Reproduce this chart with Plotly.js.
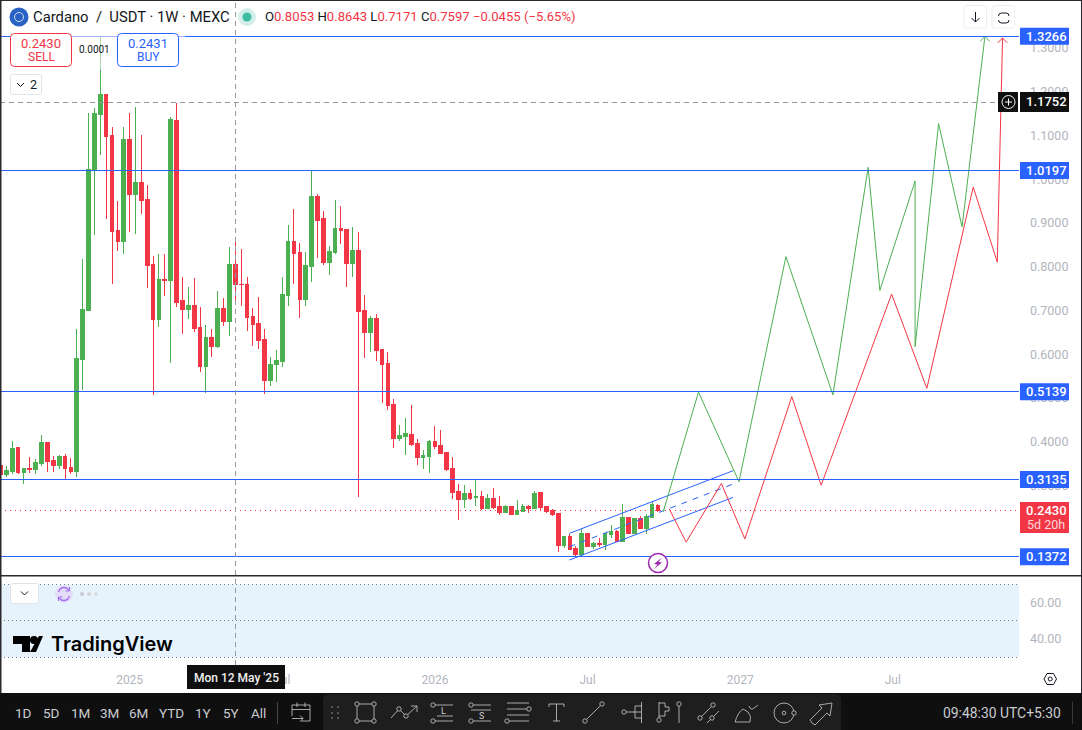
<!DOCTYPE html>
<html>
<head>
<meta charset="utf-8">
<script src="https://cdn.plot.ly/plotly-3.0.1.min.js"></script>
<style>
html, body { margin: 0; padding: 0; background: #fff; overflow: hidden; }
#chart { width: 1082px; height: 730px; }
.boxlayer path { shape-rendering: crispEdges; }
</style>
</head>
<body>
<div id="chart"></div>
<script>
const W = 1082, H = 730
const FONT = 'Roboto, "Liberation Sans", sans-serif'

// weekly candles, first one is the week of 2024-08-05
const firstWeek = '2024-08-05'
const opens = [.345,.325,.331,.386,.329,.338,.336,.350,.398,.357,
  .345,.366,.341,.331,.587,.699,1.019,1.147,1.193,1.099,
  .882,.857,1.090,.965,.992,.953,.805,.679,.770,.768,
  1.134,.722,.702,.711,.661,.571,.638,.617,.704,.674,
  .8053,.7597,.759,.686,.670,.633,.539,.576,.583,.734,
  .857,.832,.725,.800,.960,.910,.809,.832,.887,.885,
  .807,.837,.699,.649,.681,.610,.578,.485,.407,.411,
  .416,.395,.363,.366,.400,.391,.375,.338,.286,.267,
  .281,.272,.274,.247,.270,.251,.238,.251,.233,.240,
  .251,.247,.283,.251,.242,.235,.162,.183,.155,.142,
  .190,.160,.167,.165,.187,.194,.171,.226,.190,.224,
  .201,.226,.254]
const highs = [.357,.345,.402,.389,.341,.366,.361,.416,.398,.368,
  .370,.373,.363,.658,.818,1.152,1.163,1.3266,1.193,1.120,
  .951,1.120,1.152,1.166,1.102,.987,.825,.830,.830,1.143,
  1.175,.777,.754,.775,.709,.667,.658,.745,.729,.846,
  .8643,.841,.777,.706,.731,.658,.594,.610,.777,.896,
  .933,.855,.834,1.019,.967,.928,.848,.953,.939,.887,
  .891,.880,.736,.688,.693,.613,.606,.498,.439,.455,
  .485,.407,.382,.405,.437,.427,.375,.366,.304,.302,
  .293,.313,.288,.281,.295,.277,.256,.254,.267,.258,
  .256,.288,.283,.254,.247,.235,.183,.190,.162,.201,
  .190,.171,.181,.192,.210,.199,.258,.229,.226,.231,
  .235,.265,.258]
const lows = [.277,.320,.327,.327,.304,.329,.327,.345,.331,.331,
  .338,.315,.327,.320,.519,.699,.873,1.056,.910,.761,
  .837,.830,.880,.875,.921,.752,.507,.663,.734,.581,
  .709,.647,.681,.651,.560,.512,.594,.615,.665,.642,
  .7171,.711,.654,.619,.613,.510,.528,.537,.571,.711,
  .761,.683,.711,.766,.821,.805,.782,.830,.853,.754,
  .777,.274,.592,.606,.585,.489,.473,.386,.402,.370,
  .391,.347,.338,.329,.384,.373,.334,.270,.222,.249,
  .267,.254,.245,.247,.247,.233,.238,.233,.233,.240,
  .238,.247,.245,.238,.231,.149,.158,.153,.139,.139,
  .160,.155,.160,.153,.181,.171,.171,.190,.190,.201,
  .190,.226,.240]
const closes = [.325,.334,.384,.329,.338,.336,.352,.398,.354,.345,
  .366,.338,.331,.590,.702,1.022,1.150,1.193,1.097,.880,
  .857,1.090,.965,.992,.951,.802,.679,.770,.768,1.136,
  .718,.702,.711,.658,.571,.638,.617,.704,.674,.805,
  .7597,.759,.683,.667,.631,.539,.576,.585,.736,.857,
  .830,.725,.802,.960,.905,.809,.834,.887,.882,.807,
  .837,.697,.649,.681,.608,.576,.482,.407,.414,.418,
  .393,.363,.368,.400,.389,.373,.336,.283,.267,.281,
  .270,.274,.247,.270,.249,.238,.251,.233,.242,.251,
  .247,.281,.249,.240,.233,.162,.183,.153,.142,.190,
  .160,.167,.165,.190,.194,.171,.226,.190,.224,.201,
  .229,.256,.243]

// drawn forecast paths, x in weeks after 2025-05-12
const anchorWeek = '2025-05-12'
const greenWeeks = [72.9,78.9,85.8,93.8,101.8,107.8,109.8,115.8,115.8,119.8,123.8,127.7]
const greenPrices = [.240,.5134,.3086,.823,.507,1.027,.746,.996,.617,1.127,.891,1.3266]
const redWeeks = [73.9,76.8,82.8,86.8,94.8,99.8,111.8,117.8,125.7,129.8,130.7]
const redPrices = [.247,.1705,.3045,.1776,.503,.3006,.7374,.522,.982,.8105,1.323]
const greenHeadWeeks = [126.9,127.7,128.5]
const greenHeadPrices = [1.3152,1.3266,1.3152]
const redHeadWeeks = [129.9,130.7,131.5]
const redHeadPrices = [1.3116,1.323,1.3116]

// up channel
const channelWeeks = [56.9,84.8]
const channelTop = [.1904,.3337]
const channelMid = [.160,.3032]
const channelBottom = [.1296,.2727]

const levels = [1.3266,1.0197,.5139,.3135,.1372]
const crossPrice = 1.1752
const lastPrice = .2430

const priceTicks = [.3,.4,.5,.6,.7,.8,.9,1,1.1,1.2,1.3]
const oscTicks = [40,60]
const timeTicks = ['2025-01-06','2025-07-07','2026-01-05','2026-07-06','2027-01-04','2027-07-05']
const timeLabels = ['2025','Jul','2026','Jul','2027','Jul']
const rangeLabels = ['1D','5D','1M','3M','6M','YTD','1Y','5Y','All']
const rangeX = [23,51,80,109,138,171,203,231,258]

const GREEN = '#4caf50', RED = '#f23645', BLUE = '#2962ff', GREY = '#b2b5be', ICON = '#c9cbd0', PANEL = '#1e1e1e'
const DAY = 86400000
const weekToDate = w => new Date(Date.parse(anchorWeek + 'T00:00:00Z') + w * 7 * DAY).toISOString().slice(0, 19)
const dates = opens.map((_, i) => new Date(Date.parse(firstWeek + 'T00:00:00Z') + i * 7 * DAY).toISOString().slice(0, 10))

const X = x => x / W
const Y = y => 1 - y / H
// pixel path -> paper path
const P = d => d.replace(/(-?[\d.]+)[ ,]+(-?[\d.]+)/g, (m, a, b) => X(+a) + ',' + Y(+b))

const shapes = []
const notes = []
const pth = (d, color, width, fill) => shapes.push({type: 'path', xref: 'paper', yref: 'paper', path: P(d),
  line: {color: color || 'rgba(0,0,0,0)', width: width === undefined ? 1 : width}, fillcolor: fill || 'rgba(0,0,0,0)'})
const rct = (x0, y0, x1, y1, fill) => shapes.push({type: 'rect', xref: 'paper', yref: 'paper', x0: X(x0), x1: X(x1), y0: Y(y0), y1: Y(y1), line: {width: 0}, fillcolor: fill})
const rnd = (x0, y0, x1, y1, r, color, fill, width) => pth(`M${x0 + r} ${y0} L${x1 - r} ${y0} Q${x1} ${y0} ${x1} ${y0 + r} L${x1} ${y1 - r} Q${x1} ${y1} ${x1 - r} ${y1} L${x0 + r} ${y1} Q${x0} ${y1} ${x0} ${y1 - r} L${x0} ${y0 + r} Q${x0} ${y0} ${x0 + r} ${y0} Z`, color, width, fill)
const cir = (cx, cy, r, color, fill, width) => shapes.push({type: 'circle', xref: 'paper', yref: 'paper', x0: X(cx - r), x1: X(cx + r), y0: Y(cy - r), y1: Y(cy + r),
  line: {color: color || 'rgba(0,0,0,0)', width: width === undefined ? 1 : width}, fillcolor: fill || 'rgba(0,0,0,0)'})
const txt = (x, y, text, size, color, anchor, o) => notes.push(Object.assign({xref: 'paper', yref: 'paper', x: X(x), y: Y(y), text: text, showarrow: false,
  xanchor: anchor || 'center', yanchor: 'middle', font: {family: FONT, size: size, color: color}, borderpad: 0}, o))
const tagFont = {family: FONT, size: 13, color: '#fff', weight: 500}
const knob = (x, y) => cir(x, y, 2.2, ICON, PANEL, .8)

// price levels
levels.forEach(v => shapes.push({type: 'line', xref: 'paper', yref: 'y', x0: 0, x1: X(1019), y0: v, y1: v, line: {color: BLUE, width: 1}}))
shapes.push({type: 'line', xref: 'paper', yref: 'y', x0: 0, x1: X(1019), y0: lastPrice, y1: lastPrice, line: {color: RED, width: 1, dash: '1px,4px'}})
shapes.push({type: 'line', xref: 'paper', yref: 'y', x0: 0, x1: X(998), y0: crossPrice, y1: crossPrice, line: {color: '#9598a1', width: 1, dash: '5px,4px'}})
shapes.push({type: 'line', xref: 'x', yref: 'paper', x0: anchorWeek, x1: anchorWeek, y0: Y(665), y1: 1, line: {color: '#9598a1', width: 1, dash: '5px,4px'}})
;[30, 50, 70].forEach(v => shapes.push({type: 'line', xref: 'paper', yref: 'y2', x0: 0, x1: X(1019), y0: v, y1: v, line: {color: '#787b86', width: 1, dash: '1px,3px'}}))
const crispCount = shapes.length

// oscillator band
shapes.push({type: 'rect', xref: 'paper', yref: 'y2', x0: 0, x1: X(1019), y0: 30, y1: 70, line: {width: 0}, fillcolor: '#e6f3fd', layer: 'below'})

// level tags
levels.forEach(v => {
  shapes.push({type: 'rect', xref: 'paper', yref: 'y', ysizemode: 'pixel', yanchor: v, y0: -8.5, y1: 8.5, x0: X(1020), x1: X(1069), line: {width: 0}, fillcolor: BLUE})
  txt(1046, 0, v.toFixed(4), 13, '#fff', 'center', {yref: 'y', y: v, font: tagFont})
})

// legend veil over chart top left
rct(72, 31, 117, 70, 'rgba(255,255,255,.55)')
rct(179, 31, 185, 40, 'rgba(255,255,255,.55)')

// frame
rct(0, 575, W, 576.4, '#2a2a2e')
rct(0, 0, 1.5, 693, '#2a2a2e')
rct(1081, 0, W, 693, '#2a2a2e')
rct(0, 0, W, 1, '#2a2a2e')

// header
cir(19, 17, 9.5, null, '#2a62c4')
cir(19, 17, 4.5, '#cfe0f7', 'rgba(0,0,0,0)', 1)
cir(247, 17, 9, null, '#d4efe9')
cir(247, 17, 4.5, null, '#3dbba3')
txt(32, 17, 'Cardano\u00a0 /\u00a0 USDT · 1W · MEXC', 14.8, '#131722', 'left')
const r = s => `<span style="color:${RED}">${s}</span>`
txt(264, 17, 'O' + r('0.8053') + ' H' + r('0.8643') + ' L' + r('0.7171') + ' C' + r('0.7597') + ' ' + r('−0.0455 (−5.65%)'), 13.1, '#131722', 'left')

// sell / buy
rnd(10.5, 33.5, 71.5, 66.5, 4, RED, '#fff', 1)
rnd(117.5, 33.5, 178.5, 66.5, 4, BLUE, '#fff', 1)
txt(41, 43, '0.2430', 13, RED)
txt(41, 57.5, 'SELL', 12, RED)
txt(148, 43, '0.2431', 13, BLUE)
txt(148, 57.5, 'BUY', 12, BLUE)
txt(94, 49.5, '0.0001', 10, '#131722')
rnd(10.5, 74.5, 41.5, 94.5, 2, '#e0e3eb', '#fff', 1)
pth('M17 83 L20.5 86.5 L24 83', '#131722', 1)
txt(33, 84.5, '2', 12.5, '#131722')

// top right buttons
rnd(964, 5.5, 986.5, 28, 3, '#eeeef0', '#fff', 1)
rnd(992, 5.5, 1014.5, 28, 3, '#eeeef0', '#fff', 1)
pth('M975.5 12 L975.5 22 M971.5 18 L975.5 22 L979.5 18', '#131722', 1)
pth('M998.5 16 Q998.5 13 1001.5 13 L1006 13 Q1009 13 1009 16 M1009 20 Q1009 23 1006 23 L1001.5 23 Q998.5 23 998.5 20', '#131722', 1)

// crosshair price tag
rct(998, 92, 1018, 112, '#0f0f0f')
cir(1008.5, 102, 6.5, '#eee', 'rgba(0,0,0,0)', 1)
pth('M1005 102 L1012 102 M1008.5 98.5 L1008.5 105.5', '#fff', 1)
rct(1020, 92, 1069, 112, '#0f0f0f')
txt(1046, 102, crossPrice.toFixed(4), 13, '#fff', 'center', {font: tagFont})

// last price tag
rct(1020, 502, 1069, 533, RED)
txt(1046, 510.5, lastPrice.toFixed(4), 13, '#fff', 'center', {font: tagFont})
txt(1046, 524.5, '5d 20h', 12.5, '#fbd5d8')

// lightning mark
cir(658, 563, 9.5, '#9c27b0', '#fff', 1.5)
pth('M662 557.5 L654 564 L657.5 564.5 L654 569 L662 562.5 L658.5 562 Z', null, 0, '#9c27b0')

// lower pane widgets
rnd(10.5, 583.5, 38.5, 603.5, 2, '#e0e3eb', '#fff', 1)
pth('M21 591.5 L24.5 595 L28 591.5', '#131722', 1)
cir(64, 594, 9, null, '#e4dcf9')
pth('M58.5 592 Q60 587.5 64 587.5 Q67 587.5 69 590 M69.5 596 Q68 600.5 64 600.5 Q61 600.5 59 598', '#a06ff0', 1.3)
pth('M69.5 587 L69.5 591 L65.5 591 M58.5 601 L58.5 597 L62.5 597', '#a06ff0', 1)
cir(82, 594, 2, null, '#c8cad0')
cir(89, 594, 2, null, '#d2d4d9')
cir(96, 594, 2, null, '#dcdee2')

// logo
pth('M13 636 L30 636 L30 652 L22 652 L22 644 L13 644 Z', null, 0, '#000')
cir(34, 640, 4, null, '#000')
pth('M39 636 L43 636 L36 652 L30 652 Z', null, 0, '#000')
txt(50, 644, 'TradingView', 20, '#000', 'left', {font: {family: 'Inter, ' + FONT, size: 20, color: '#000', weight: 600}})

// date tag
rct(187, 665, 285, 689, '#0f0f0f')
txt(236, 678, "Mon 12 May '25", 12, '#fff', 'center', {font: {family: FONT, size: 12, color: '#f0f0f0', weight: 500}})

// gear
pth('M1044 679 L1047 673.5 L1053.5 673.5 L1056.5 679 L1053.5 684.5 L1047 684.5 Z', '#131722', 1)
cir(1050.2, 679, 2, '#131722', '#fff', 1)

// bottom bar
rct(0, 693, W, 730, '#0f0f0f')
pth('M323 730 L323 700 Q323 694 329 694 L835 694 Q841 694 841 700 L841 730 Z', null, 0, PANEL)
rangeLabels.forEach((t, i) => txt(rangeX[i], 712.5, t, 13.5, ICON))
rct(277, 702, 277.8, 724, '#555')
rct(1072, 702, 1072.8, 724, '#444')
txt(1062, 712.5, '09:48:30 UTC+5:30', 13.9, ICON, 'right')

// calendar
pth('M292 716 L292 705 L310 705 L310 721 L301 721 M292 709.5 L310 709.5 M297 702.5 L297 707 M305 702.5 L305 707 M292 718.5 L303 718.5 M300 715.5 L303 718.5 L300 721.5', ICON, .8)
// handle
;[332, 338].forEach(x => [707, 713, 718].forEach(y => rct(x - 1, y - 1, x + 1, y + 1, '#555')))
// rectangle tool
pth('M357 704 L374 704 L374 721 L357 721 Z', ICON, .8)
;[[357, 704], [374, 704], [357, 721], [374, 721]].forEach(c => knob(c[0], c[1]))
// zigzag
pth('M391 718 L399 709 L406 716 L417 706 M411 706 L417 706 L417 712', ICON, .8)
knob(399, 709)
knob(406, 716)
// long
pth('M435 705 L453 705 M435 721 L453 721 M437 716 L453 716', ICON, .8)
knob(433, 705)
knob(433, 721)
txt(443, 711, 'L', 9, ICON)
// short
pth('M473 705 L491 705 M471 710 L491 710 M473 721 L491 721', ICON, .8)
knob(471, 705)
knob(471, 721)
txt(481, 715.5, 'S', 9, ICON)
// lines
pth('M507 703 L529 703 M507 709 L527 709 M507 715 L529 715 M509 721 L529 721', ICON, .8)
knob(529, 709)
knob(507, 721)
// text
pth('M549 707 L549 704 L564 704 L564 707 M556.5 704 L556.5 721 M553 721 L560 721', ICON, .8)
// trend line
pth('M585 721 L602 704', ICON, .8)
knob(585, 721)
knob(602, 704)
// pitchfork
pth('M626 712 L641.5 712 M635 706 L641.5 706 M635 718 L641.5 718 M635 706 L635 718 M641.5 702 L641.5 723', ICON, .8)
knob(624, 712)
// fib
pth('M659 718 L659 702 M659 703 L665 703 L665 707 L669 707 L669 711 L665 711 L665 716 L659 716 M679 706 L679 723', ICON, .8)
knob(659, 720)
knob(679, 704)
// parallel
pth('M700 718 L713 705 M707 723 L719 711', ICON, .8)
knob(713, 705)
knob(700, 718)
knob(712, 718)
// brush
pth('M735 722 L750 722 Q752 716 748 712 L743 709 Q738 712 735 722 Z M749 706 Q751 711 754 708 L758 705', ICON, .8)
// circle
cir(784, 713, 10, ICON, 'rgba(0,0,0,0)', .8)
cir(784, 713, 1.8, ICON, 'rgba(0,0,0,0)', .8)
knob(794, 713)
// arrow
pth('M812 723 L810 720 L822 708 L819 705 L832 703 L830 716 L827 713 L815 725 Z', ICON, .8)

const pathLine = (xs, ys, color, width, dash) => ({
  type: 'scatter', mode: 'lines', xaxis: 'x', yaxis: 'y', hoverinfo: 'skip', showlegend: false,
  x: xs.map(weekToDate), y: ys, line: {color: color, width: width || 1, dash: dash || 'solid'}
})

const data = [
  {
    type: 'candlestick', x: dates, open: opens, high: highs, low: lows, close: closes,
    xaxis: 'x', yaxis: 'y', hoverinfo: 'skip', showlegend: false,
    increasing: {line: {color: GREEN, width: 1}, fillcolor: GREEN},
    decreasing: {line: {color: RED, width: 1}, fillcolor: RED}
  },
  pathLine(channelWeeks, channelTop, BLUE),
  pathLine(channelWeeks, channelBottom, BLUE),
  pathLine(channelWeeks, channelMid, BLUE, 1, '6px,6px'),
  pathLine(greenWeeks, greenPrices, GREEN),
  pathLine(greenHeadWeeks, greenHeadPrices, GREEN),
  pathLine(redWeeks, redPrices, RED),
  pathLine(redHeadWeeks, redHeadPrices, RED),
  // lower pane is empty in the picture, the trace only keeps its axis alive
  {type: 'scatter', mode: 'none', xaxis: 'x', yaxis: 'y2', x: dates.slice(0, 2), y: [50, 50], hoverinfo: 'skip', showlegend: false}
]

const layout = {
  width: W, height: H,
  margin: {l: 0, r: 0, t: 0, b: 0},
  paper_bgcolor: '#fff', plot_bgcolor: '#fff',
  showlegend: false, hovermode: false, dragmode: false,
  boxgap: 0.1,
  xaxis: {
    type: 'date', domain: [0, X(1019)], anchor: 'y2',
    range: [weekToDate(-40.08), weekToDate(133.5)],
    rangeslider: {visible: false},
    tickmode: 'array', tickvals: timeTicks, ticktext: timeLabels,
    showgrid: false, zeroline: false, showline: false, ticks: '',
    ticklabelstandoff: 10,
    tickfont: {family: FONT, size: 12, color: GREY}
  },
  yaxis: {
    domain: [Y(575.7), Y(1.7)], anchor: 'x', side: 'right',
    range: [(616 - 575) / 437.5, (616 - 1) / 437.5],
    tickmode: 'array', tickvals: priceTicks, ticktext: priceTicks.map(v => v.toFixed(4)),
    showgrid: false, zeroline: false, showline: false, ticks: '',
    ticklabelstandoff: 10,
    tickfont: {family: FONT, size: 12.5, color: GREY}
  },
  yaxis2: {
    domain: [Y(661), Y(577.5)], anchor: 'x', side: 'right',
    range: [27.8, 73.9],
    tickmode: 'array', tickvals: oscTicks, ticktext: oscTicks.map(v => v.toFixed(2)),
    showgrid: false, zeroline: false, showline: false, ticks: '',
    ticklabelstandoff: 10,
    tickfont: {family: FONT, size: 12.5, color: GREY}
  },
  shapes: shapes,
  annotations: notes
}

Plotly.newPlot('chart', data, layout, {staticPlot: true, displayModeBar: false}).then(() => {
  // keep the long level lines on whole pixels
  document.querySelectorAll('.shapelayer path').forEach(el => {
    if (+el.getAttribute('data-index') < crispCount) el.style.shapeRendering = 'crispEdges'
  })
})
</script>
</body>
</html>
